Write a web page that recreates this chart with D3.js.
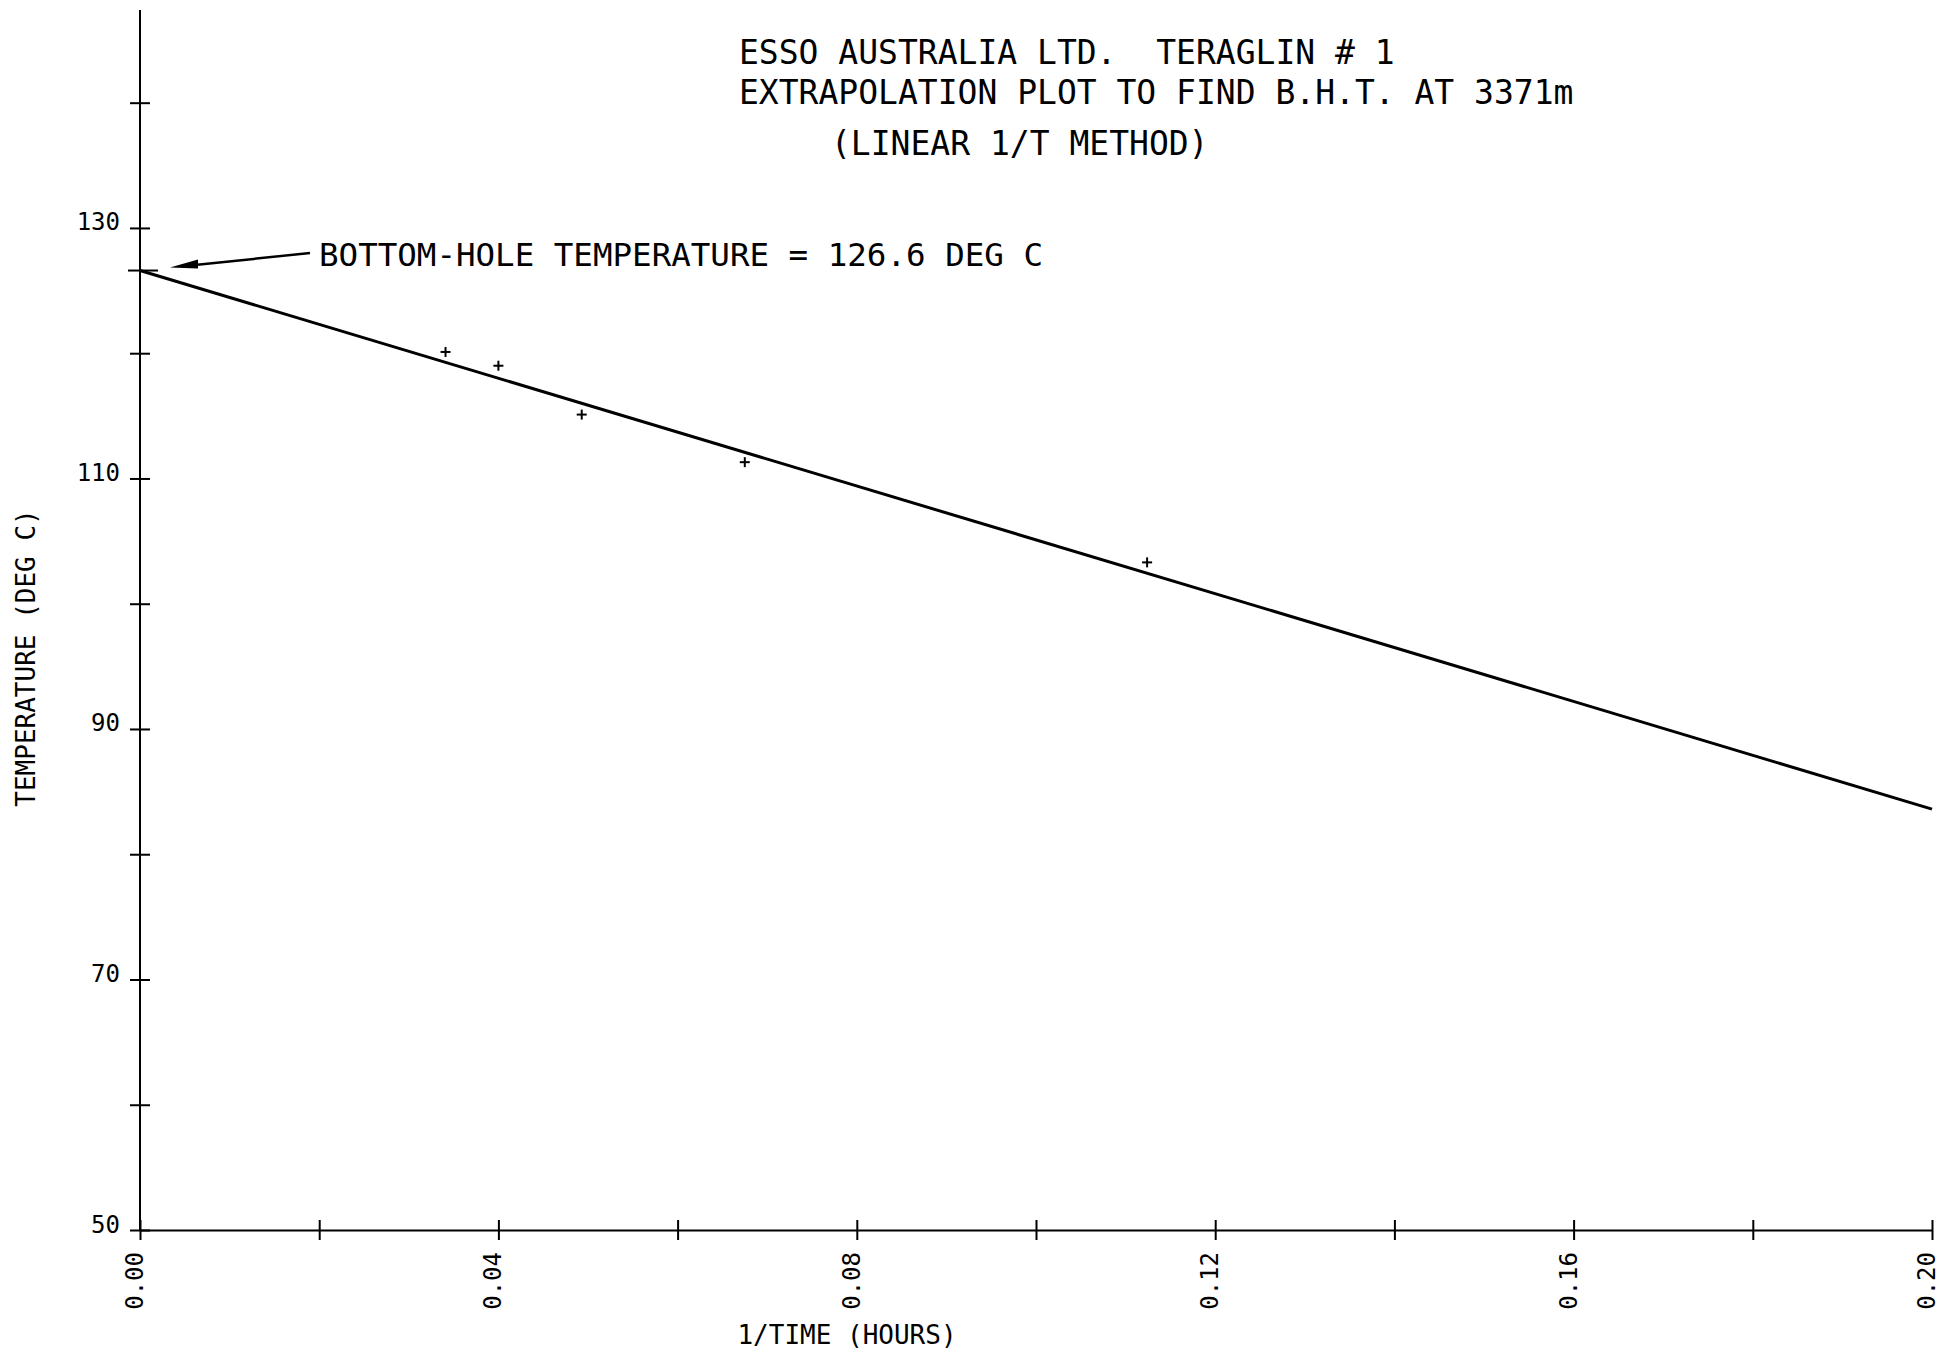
<!DOCTYPE html>
<html>
  <head>
    <meta charset="utf-8">
    <script src="https://d3js.org/d3.v7.min.js"></script>
    <style>
      body { margin: 0; background: #fff; }
      text { font-family: "DejaVu Sans Mono", monospace; fill: #000; white-space: pre; }
      .axis path, .axis line { stroke: #000; stroke-width: 2; }
    </style>
  </head>
<body>
  <script type="text/javascript">
    "use strict";
    // data
    var invTime = [0.0341, 0.0400, 0.0493, 0.0675, 0.1124];
    var temps = [120.1, 119.0, 115.1, 111.3, 103.3];
    var fitX = [0, 0.20];
    var fitT = [126.6, 83.6];
    var bht = 126.6;
    var xTicks = [0, 0.02, 0.04, 0.06, 0.08, 0.10, 0.12, 0.14, 0.16, 0.18, 0.20];
    var xLabelled = [0, 0.04, 0.08, 0.12, 0.16, 0.20];
    var yTicks = [50, 60, 70, 80, 90, 100, 110, 120, 130, 140];
    var yLabelled = [50, 70, 90, 110, 130];
    var titleLines = ["ESSO AUSTRALIA LTD.  TERAGLIN # 1",
                      "EXTRAPOLATION PLOT TO FIND B.H.T. AT 3371m",
                      "(LINEAR 1/T METHOD)"];

    var width = 1940, height = 1349;
    var svg = d3.select("body").append("svg")
        .attr("width", width)
        .attr("height", height);

    var x = d3.scaleLinear().domain([0, 0.2]).range([140, 1932]);
    var y = d3.scaleLinear().domain([50, 147.4]).range([1230, 10]);

    /*
      Axes
    */
    var xAxis = d3.axisBottom(x)
        .tickValues(xTicks)
        .tickSizeOuter(0)
        .tickFormat(function(d) {
          return xLabelled.some(function(v) { return Math.abs(v - d) < 1e-9; })
              ? d3.format(".2f")(d) : "";
        });
    var gx = svg.append("g").attr("class", "axis")
        .attr("transform", "translate(0," + y(50) + ")")
        .call(xAxis);
    gx.selectAll(".tick line").attr("y1", -10).attr("y2", 10);
    gx.selectAll(".tick text")
        .attr("transform", "rotate(-90)")
        .attr("text-anchor", "end")
        .attr("x", -22)
        .attr("y", 0)
        .attr("dy", "0.1em")
        .style("font-size", "24px");

    var yAxis = d3.axisLeft(y)
        .tickValues(yTicks)
        .tickSizeOuter(0)
        .tickFormat(function(d) { return yLabelled.indexOf(d) >= 0 ? d : ""; });
    var gy = svg.append("g").attr("class", "axis")
        .attr("transform", "translate(" + x(0) + ",0)")
        .call(yAxis);
    gy.selectAll(".tick line").attr("x1", -10).attr("x2", 10);
    gy.selectAll(".tick text")
        .attr("x", -20)
        .attr("dy", 2)
        .style("font-size", "24px");
    gy.select(".domain").attr("d", "M0," + y(50) + "V" + y.range()[1]);

    // extra tick marking the extrapolated value
    svg.append("line")
        .attr("x1", x(0) - 12).attr("x2", x(0) + 18)
        .attr("y1", y(bht)).attr("y2", y(bht))
        .attr("stroke", "#000").attr("stroke-width", 2);

    /*
      Fitted line and points
    */
    svg.append("line")
        .attr("x1", x(fitX[0])).attr("y1", y(fitT[0]))
        .attr("x2", x(fitX[1])).attr("y2", y(fitT[1]))
        .attr("stroke", "#000").attr("stroke-width", 3);

    var pts = svg.append("g").attr("stroke", "#000").attr("stroke-width", 2);
    invTime.forEach(function(v, i) {
      var cx = x(v), cy = y(temps[i]);
      pts.append("line").attr("x1", cx - 5).attr("x2", cx + 5)
          .attr("y1", cy).attr("y2", cy);
      pts.append("line").attr("x1", cx).attr("x2", cx)
          .attr("y1", cy - 5).attr("y2", cy + 5);
    });

    /*
      Annotation with arrow
    */
    var tipX = x(0) + 30, tipY = y(bht) - 3;
    var tailX = 310, tailY = 253;
    svg.append("line")
        .attr("x1", tailX).attr("y1", tailY)
        .attr("x2", tipX + 20).attr("y2", tipY - 2)
        .attr("stroke", "#000").attr("stroke-width", 2.5);
    svg.append("path")
        .attr("d", "M" + tipX + "," + tipY +
                   "L" + (tipX + 28) + "," + (tipY - 8) +
                   "L" + (tipX + 28) + "," + (tipY + 1) + "Z")
        .attr("fill", "#000");
    svg.append("text")
        .attr("x", 319).attr("y", 266)
        .style("font-size", "32.5px")
        .text("BOTTOM-HOLE TEMPERATURE = 126.6 DEG C");

    /*
      Titles
    */
    var titleX = [739, 739, 831], titleY = [64, 104, 155];
    titleLines.forEach(function(t, i) {
      svg.append("text")
          .attr("x", titleX[i]).attr("y", titleY[i])
          .style("font-size", "33px")
          .text(t);
    });

    svg.append("text")
        .attr("x", 847).attr("y", 1344)
        .attr("text-anchor", "middle")
        .style("font-size", "26px")
        .text("1/TIME (HOURS)");

    svg.append("text")
        .attr("transform", "translate(35,658) rotate(-90)")
        .attr("text-anchor", "middle")
        .style("font-size", "26px")
        .text("TEMPERATURE (DEG C)");
  </script>
</body>
</html>
